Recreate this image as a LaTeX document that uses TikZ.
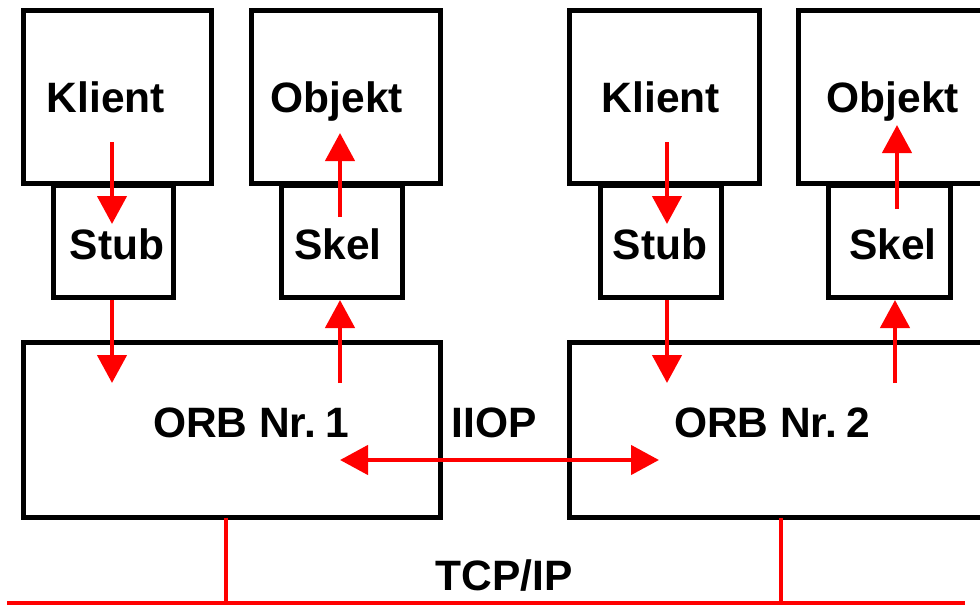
\documentclass[tikz,border=0pt]{standalone}
\usepackage{fontspec}
\setmainfont{Liberation Sans}
\usetikzlibrary{arrows.meta}
\begin{document}
\begin{tikzpicture}[x=1pt,y=-1pt,
  box/.style={draw=black, line width=5pt, inner sep=0pt, outer sep=0pt},
  lbl/.style={font=\fontsize{42.5}{50}\selectfont\bfseries, inner sep=0pt, anchor=base},
  flow/.style={draw=red, line width=4.5pt, -{Triangle[width=29pt,length=28pt]}},
  both/.style={draw=red, line width=4.5pt, {Triangle[width=29pt,length=28pt]}-{Triangle[width=29pt,length=28pt]}},
  net/.style={draw=red, line width=3.5pt}]
\useasboundingbox (0,0) rectangle (980,605);
\clip (0,0) rectangle (980,605);
% boxes
\node[box, minimum width=188pt, minimum height=173pt] (klient1) at (117.5,97) {};
\node[box, minimum width=120pt, minimum height=112pt] (stub1) at (113.5,241.5) {};
\node[box, minimum width=189pt, minimum height=173pt] (objekt1) at (346,97) {};
\node[box, minimum width=121pt, minimum height=112pt] (skel1) at (342,241.5) {};
\node[box, minimum width=190pt, minimum height=173pt] (klient2) at (664.5,97) {};
\node[box, minimum width=121pt, minimum height=112pt] (stub2) at (661,241.5) {};
\node[box, minimum width=211.5pt, minimum height=173pt] (objekt2) at (904.25,97) {};
\node[box, minimum width=122pt, minimum height=112pt] (skel2) at (889.5,241.5) {};
\node[box, minimum width=417pt, minimum height=175pt] (orb1) at (232,430) {};
\node[box, minimum width=440.5pt, minimum height=175pt] (orb2) at (789.75,430) {};
% labels
\node[lbl] (tk1) at (106,112) {Klient};
\node[lbl] (to1) at (337,112) {Objekt};
\node[lbl] (ts1) at (117,259) {Stub};
\node[lbl] (tsk1) at (338,259) {Skel};
\node[lbl] (tk2) at (661,112) {Klient};
\node[lbl] (to2) at (893,112) {Objekt};
\node[lbl] (ts2) at (660,259) {Stub};
\node[lbl] (tsk2) at (893,259) {Skel};
\node[lbl] (torb1) at (251,437) {ORB Nr.\hspace{0.22em}1};
\node[lbl] (tiiop) at (494,437) {IIOP};
\node[lbl] (torb2) at (772,437) {ORB Nr.\hspace{0.22em}2};
\node[lbl] (ttcp) at (504,590) {TCP/IP};
% arrow end points
\coordinate (k1a) at (112,142); \coordinate (k1b) at (112,224);
\coordinate (o1a) at (340,217); \coordinate (o1b) at (340,133);
\coordinate (s1a) at (112,300); \coordinate (s1b) at (112,383);
\coordinate (r1a) at (340,383); \coordinate (r1b) at (340,300);
\coordinate (k2a) at (667,142); \coordinate (k2b) at (667,224);
\coordinate (o2a) at (897,209); \coordinate (o2b) at (897,125);
\coordinate (s2a) at (667,300); \coordinate (s2b) at (667,383);
\coordinate (r2a) at (895,383); \coordinate (r2b) at (895,300);
\coordinate (ia) at (340,460); \coordinate (ib) at (659,460);
\draw[flow] (k1a) -- (k1b);
\draw[flow] (o1a) -- (o1b);
\draw[flow] (s1a) -- (s1b);
\draw[flow] (r1a) -- (r1b);
\draw[flow] (k2a) -- (k2b);
\draw[flow] (o2a) -- (o2b);
\draw[flow] (s2a) -- (s2b);
\draw[flow] (r2a) -- (r2b);
\draw[both] (ia) -- (ib);
% network
\coordinate (nl) at (7,603); \coordinate (nr) at (965,603);
\coordinate (t1) at (226,603); \coordinate (t2) at (781,603);
\draw[net] (nl) -- (nr);
\draw[net] (t1 |- orb1.south) -- (t1);
\draw[net] (t2 |- orb2.south) -- (t2);
\end{tikzpicture}
\end{document}
